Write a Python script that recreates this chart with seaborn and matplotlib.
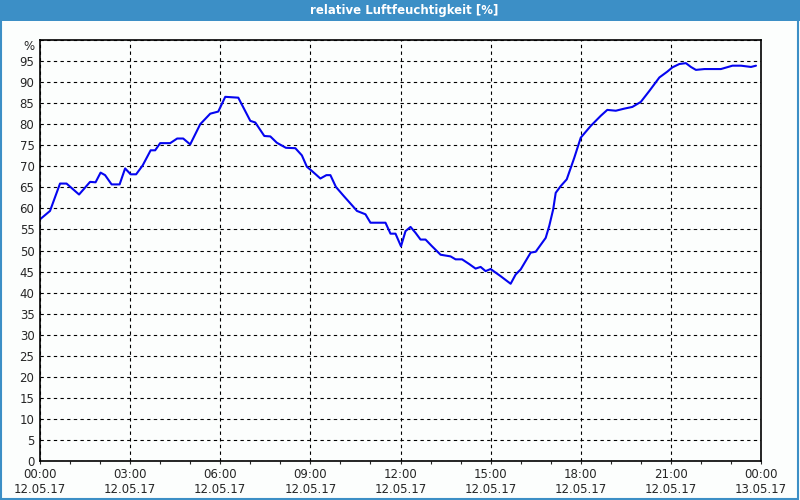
import matplotlib
matplotlib.use("Agg")
import matplotlib.pyplot as plt
import matplotlib.dates as mdates
import matplotlib.transforms as mtransforms
from matplotlib.patches import Rectangle
import seaborn as sns
import pandas as pd

times = ["00:00", "00:20", "00:40", "00:53", "01:18", "01:40", "01:51", "02:01",
         "02:10", "02:23", "02:39", "02:50", "03:01", "03:12", "03:25", "03:41",
         "03:50", "04:00", "04:20", "04:34", "04:46", "05:00", "05:20", "05:40",
         "05:56", "06:10", "06:36", "07:00", "07:10", "07:28", "07:40", "07:53",
         "08:11", "08:30", "08:43", "08:53", "09:03", "09:20", "09:32", "09:40",
         "09:51", "10:07", "10:25", "10:33", "10:50", "11:00", "11:30", "11:40",
         "11:50", "12:01", "12:10", "12:20", "12:30", "12:40", "12:50", "13:03",
         "13:20", "13:40", "13:50", "14:03", "14:17", "14:30", "14:40", "14:50",
         "15:00", "15:20", "15:40", "15:50", "16:00", "16:20", "16:30", "16:50",
         "16:57", "17:05", "17:10", "17:20", "17:32", "17:47", "18:00", "18:20",
         "18:40", "18:53", "19:10", "19:27", "19:43", "20:00", "20:17", "20:37",
         "20:53", "21:03", "21:17", "21:30", "21:40", "21:50", "22:07", "22:40",
         "23:03", "23:20", "23:40", "23:50"]

humidity = [57.4, 59.4, 65.9, 65.9, 63.3, 66.3, 66.2, 68.5,
            67.9, 65.7, 65.7, 69.5, 68.1, 68.1, 70.2, 73.8,
            73.8, 75.5, 75.5, 76.6, 76.6, 75.2, 80.0, 82.5,
            83.0, 86.5, 86.3, 80.8, 80.4, 77.2, 77.1, 75.6,
            74.4, 74.3, 72.6, 69.9, 68.9, 67.1, 67.9, 67.9,
            65.1, 62.9, 60.5, 59.4, 58.6, 56.6, 56.6, 54.0,
            54.0, 51.0, 54.6, 55.6, 54.2, 52.6, 52.6, 51.0,
            49.0, 48.6, 47.9, 47.9, 46.8, 45.7, 46.1, 45.1,
            45.6, 43.9, 42.1, 44.3, 45.5, 49.5, 49.7, 53.0,
            55.8, 59.8, 63.7, 65.3, 66.9, 72.0, 76.8, 79.6,
            82.0, 83.4, 83.2, 83.7, 84.1, 85.3, 87.9, 91.1,
            92.5, 93.5, 94.3, 94.5, 93.6, 92.9, 93.1, 93.1,
            93.9, 93.9, 93.6, 93.9]

y_ticks = list(range(0, 101, 5))
y_labels = [str(v) for v in range(0, 100, 5)] + ["%"]

df = pd.DataFrame({
    "zeit": pd.to_datetime(["2017-05-12 " + t for t in times]),
    "rf": humidity,
})

sns.set_style("white")
plt.rcParams["font.family"] = ["DejaVu Sans"]

bg = "#fcfefd"
blue = "#3c8fc6"

fig = plt.figure(figsize=(8, 5), dpi=100, facecolor=bg)
ax = fig.add_axes([40 / 800, 39 / 500, 721 / 800, 421 / 500])
ax.set_facecolor(bg)

sns.lineplot(data=df, x="zeit", y="rf", ax=ax, color="#0505f0", linewidth=1.5)

start = pd.Timestamp("2017-05-12 00:00")
end = pd.Timestamp("2017-05-13 00:00")
ax.set_xlim(start, end)
ax.set_ylim(0, 100)
ax.set_xlabel("")
ax.set_ylabel("")

ax.xaxis.set_major_locator(mdates.HourLocator(byhour=range(0, 24, 3)))
ax.xaxis.set_major_formatter(mdates.DateFormatter("%H:%M\n%d.%m.%y"))
ax.xaxis.set_minor_locator(mdates.HourLocator())
ax.set_yticks(y_ticks)
ax.set_yticklabels(y_labels)

ax.grid(True, which="major", color="black", linestyle=(0, (3, 3)), linewidth=0.8)
ax.tick_params(axis="x", which="major", length=2.5, width=0.8, pad=2.5,
               labelsize=8.5, bottom=True, direction="out")
ax.tick_params(axis="x", which="minor", length=2.5, width=0.8, bottom=True, direction="out")
ax.tick_params(axis="y", length=0, pad=4, labelsize=8.5)
for lbl in ax.get_xticklabels():
    lbl.set_linespacing(1.25)

# "%" sits a little below the top edge
pct = ax.get_yticklabels()[-1]
pct.set_transform(pct.get_transform() + mtransforms.ScaledTranslation(0, -5 / 100, fig.dpi_scale_trans))

for s in ax.spines.values():
    s.set_color("black")
    s.set_linewidth(1.2)
    s.set_visible(True)

# title bar and outer frame
fig.patches.append(Rectangle((0, 479 / 500), 1, 21 / 500, transform=fig.transFigure,
                             facecolor=blue, edgecolor="none", zorder=0))
fig.patches.append(Rectangle((0.001, 0.002), 0.997, 0.996, transform=fig.transFigure,
                             facecolor="none", edgecolor=blue, linewidth=1.5, zorder=1))
fig.text(0.505, 489.5 / 500, "relative Luftfeuchtigkeit [%]", color="white",
         fontsize=8.5, fontweight="bold", ha="center", va="center")

fig.savefig("out.png", dpi=100, facecolor=bg)
